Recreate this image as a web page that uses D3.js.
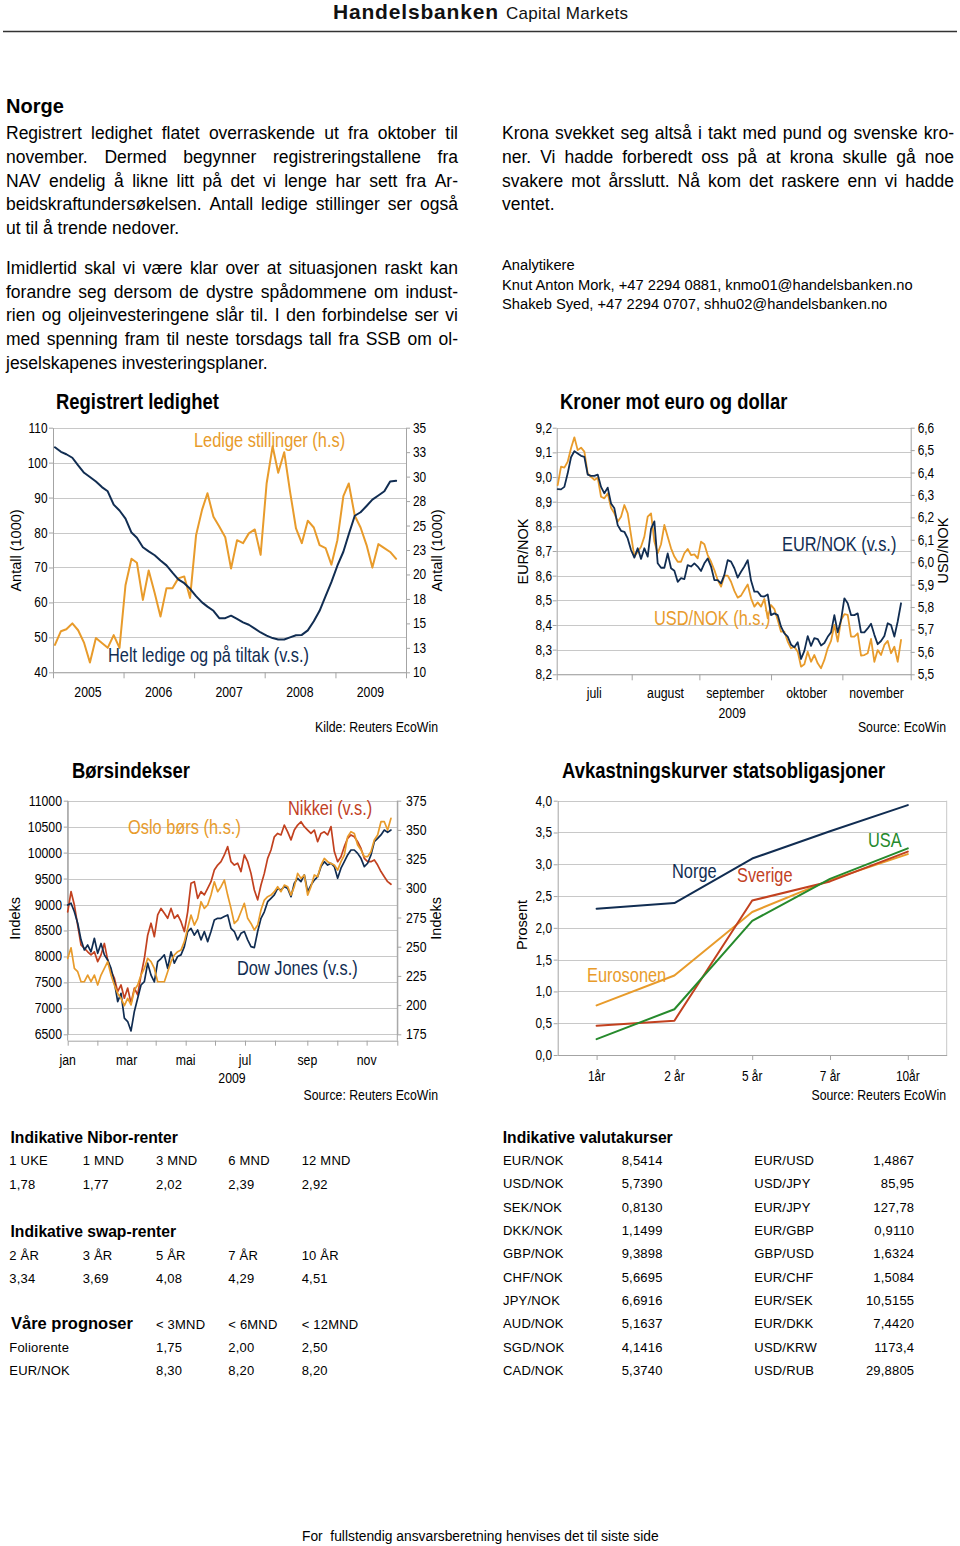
<!DOCTYPE html>
<html><head><meta charset="utf-8">
<script src="https://cdn.jsdelivr.net/npm/d3@7"></script>
<style>
html,body{margin:0;padding:0;background:#fff;}
svg{display:block;}
text{font-family:'Liberation Sans',Arial,Helvetica,sans-serif;}
</style></head><body>
<svg id="page" width="960" height="1546"></svg>
<script>
// ---------------- DATA ----------------
// Chart 1: Registrert ledighet (monthly, Jan 2005 - Nov 2009)
const ledigeHelt = [104.4,103.1,102.4,101.4,99.2,97.1,95.9,94.6,93.0,91.8,88.0,86.3,84.0,80.0,78.5,75.8,74.6,73.5,72.0,70.6,68.5,66.6,65.5,63.9,61.8,60.0,58.8,57.6,55.5,55.5,56.2,55.3,54.3,53.6,52.5,51.4,50.5,49.8,49.4,49.4,50.0,50.6,50.7,52.0,54.6,57.6,61.8,65.8,70.5,74.5,79.5,84.8,85.8,87.6,89.4,90.6,91.8,94.6,94.8];
const ledigeStillinger = [12.8,14.2,14.4,15.0,14.3,13.0,11.0,13.5,13.0,12.5,13.8,12.5,18.9,21.6,21.2,17.4,20.4,18.1,15.7,18.6,18.6,19.6,19.8,17.6,24.0,26.6,28.3,25.9,24.9,23.8,20.6,23.5,23.2,24.2,24.6,22.0,29.3,33.1,30.4,32.5,28.5,24.7,23.2,25.5,24.8,23.0,22.7,21.0,23.5,28.0,29.3,26.0,24.8,23.0,20.7,23.1,22.7,22.3,21.6];
const ledYears = ['2005','2006','2007','2008','2009'];
const ledLeftTicks = [40,50,60,70,80,90,100,110];
const ledRightTicks = [10,12.5,15,17.5,20,22.5,25,27.5,30,32.5,35];

// Chart 2: Kroner mot euro og dollar (daily samples, Jul - Nov 2009)
const eurNok = [8.951,8.95,8.96,9.015,9.08,9.105,9.095,9.086,9.082,9.01,
 9.005,9.005,9.01,8.96,8.934,8.957,8.893,8.873,8.805,8.782,
 8.778,8.751,8.704,8.673,8.711,8.668,8.711,8.677,8.79,8.82,
 8.65,8.632,8.632,8.69,8.63,8.62,8.575,8.59,8.586,8.643,
 8.637,8.65,8.637,8.619,8.65,8.67,8.637,8.582,8.582,8.569,
 8.603,8.663,8.657,8.63,8.592,8.616,8.637,8.663,8.58,8.535,
 8.535,8.517,8.515,8.524,8.44,8.447,8.44,8.393,8.366,8.353,
 8.32,8.31,8.33,8.262,8.295,8.355,8.315,8.347,8.343,8.317,
 8.327,8.352,8.37,8.44,8.37,8.42,8.508,8.488,8.44,8.44,
 8.447,8.37,8.37,8.386,8.405,8.36,8.322,8.335,8.355,8.407,
 8.40,8.353,8.414,8.488];
const usdNok = [6.344,6.426,6.422,6.448,6.508,6.557,6.50,6.511,6.493,6.396,
 6.381,6.367,6.377,6.292,6.285,6.307,6.243,6.218,6.181,6.203,
 6.255,6.218,6.121,6.025,6.047,6.069,6.114,6.203,6.218,6.092,
 6.04,6.08,6.166,6.114,6.062,6.025,6.002,6.002,6.04,6.059,
 6.032,6.035,6.017,6.092,6.08,6.032,6.002,5.965,5.921,5.891,
 5.94,5.94,5.913,5.872,5.842,5.851,5.876,5.901,5.839,5.802,
 5.821,5.802,5.836,5.75,5.809,5.791,5.742,5.69,5.69,5.646,
 5.616,5.623,5.601,5.534,5.545,5.601,5.556,5.586,5.549,5.527,
 5.564,5.616,5.649,5.72,5.646,5.742,5.768,5.765,5.668,5.668,
 5.683,5.583,5.586,5.594,5.658,5.556,5.608,5.586,5.631,5.649,
 5.594,5.623,5.556,5.653];
const fxMonths = ['juli','august','september','oktober','november'];
const fxMonthBreaks = [-0.3,22.2,42.5,64.0,85.4,105.9]; // sample index of month starts
const fxLeftTicks = [8.2,8.3,8.4,8.5,8.6,8.7,8.8,8.9,9.0,9.1,9.2];
const fxRightTicks = [5.5,5.6,5.7,5.8,5.9,6.0,6.1,6.2,6.3,6.4,6.5,6.6];

// Chart 3: Børsindekser 2009
const dowJones = [8990,9025,8860,8640,8320,8125,8220,8090,8350,8060,
 8250,8030,7930,7770,7510,7130,7290,6810,6745,6565,
 6940,7195,7450,7515,7870,7640,7510,7900,7960,8030,
 7770,8090,7870,8000,8030,8190,8480,8540,8410,8510,
 8320,8480,8285,8480,8700,8735,8735,8770,8800,8540,
 8480,8320,8445,8480,8320,8190,8170,8480,8735,8860,
 9055,9120,9185,9310,9280,9345,9310,9150,9410,9505,
 9440,9570,9250,9375,9470,9535,9730,9825,9760,9795,
 9730,9505,9700,9825,9955,10050,10050,9985,9890,9730,
 9795,9955,10210,10275,10340,10435,10390,10435];
const nikkei = [8860,9250,8990,8600,8220,8155,8090,8030,8090,7900,
 8030,8250,7930,7710,7580,7320,7450,7195,7390,7100,
 7390,7260,7640,7960,8410,8640,8380,8800,8925,8830,
 8735,8925,8735,8800,8670,8480,8860,9410,9440,9120,
 9250,9185,9310,9440,9665,9760,9825,9955,10115,9825,
 9760,9795,9635,9955,9825,9600,9280,9090,9375,9600,
 9890,10050,10305,10370,10340,10530,10400,10245,10435,10530,
 10595,10500,10435,10370,10435,10210,10370,10400,10340,10500,
 10020,9825,9920,10115,10275,10340,10305,10210,10080,9890,
 9825,9825,9860,9760,9635,9535,9440,9390];
const osloBors = [240.0,249.1,231.4,228.6,220.0,220.0,225.7,220.0,225.7,217.2,
 225.7,231.4,237.2,225.7,217.2,210.0,205.8,199.5,205.8,200.1,
 212.9,217.2,225.7,231.4,240.0,237.2,231.4,220.0,220.0,220.0,
 228.6,237.2,242.9,245.7,247.1,254.3,265.7,277.1,268.5,274.3,
 288.5,282.8,285.7,294.2,305.6,297.1,301.4,307.1,294.2,282.8,
 269.9,272.8,279.9,287.1,274.3,269.9,264.3,268.5,281.4,289.9,
 292.8,294.2,297.1,301.4,297.1,302.8,301.4,294.2,301.4,312.8,
 308.5,311.4,294.2,301.4,311.4,309.9,319.9,325.6,322.8,321.3,
 319.9,315.6,322.8,328.5,344.2,348.5,347.0,337.0,332.8,327.1,
 327.1,331.3,341.3,345.6,357.0,357.0,349.9,359.9];
const bsMonthPos = [0,8.9,17.7,26.4,35.4,44.2,53.2,62.2,71.9,80.9,89.7,98.9];
const bsMonthLabels = ['jan','','mar','','mai','','jul','','sep','','nov',''];
const bsLeftTicks = [6500,7000,7500,8000,8500,9000,9500,10000,10500,11000];
const bsRightTicks = [175,200,225,250,275,300,325,350,375];

// Chart 4: Avkastningskurver
const tenors = ['1år','2 år','5 år','7 år','10år'];
const yieldNorge = [2.30,2.39,3.09,3.52,3.93];
const yieldSverige = [0.46,0.54,2.43,2.73,3.20];
const yieldEuro = [0.78,1.25,2.25,2.75,3.16];
const yieldUSA = [0.25,0.72,2.11,2.77,3.25];
const yieldTicks = [0,0.5,1,1.5,2,2.5,3,3.5,4];

// Tables
const niborTenors = ['1 UKE','1 MND','3 MND','6 MND','12 MND'];
const niborRates = ['1,78','1,77','2,02','2,39','2,92'];
const swapTenors = ['2 ÅR','3 ÅR','5 ÅR','7 ÅR','10 ÅR'];
const swapRates = ['3,34','3,69','4,08','4,29','4,51'];
const progHorizons = ['< 3MND','< 6MND','< 12MND'];
const progNames = ['Foliorente','EUR/NOK'];
const progValues = [['1,75','2,00','2,50'],['8,30','8,20','8,20']];
const fxPairsA = ['EUR/NOK','USD/NOK','SEK/NOK','DKK/NOK','GBP/NOK','CHF/NOK','JPY/NOK','AUD/NOK','SGD/NOK','CAD/NOK'];
const fxRatesA = ['8,5414','5,7390','0,8130','1,1499','9,3898','5,6695','6,6916','5,1637','4,1416','5,3740'];
const fxPairsB = ['EUR/USD','USD/JPY','EUR/JPY','EUR/GBP','GBP/USD','EUR/CHF','EUR/SEK','EUR/DKK','USD/KRW','USD/RUB'];
const fxRatesB = ['1,4867','85,95','127,78','0,9110','1,6324','1,5084','10,5155','7,4420','1173,4','29,8805'];

// Text
const para1 = ['Registrert ledighet flatet overraskende ut fra oktober til','november. Dermed begynner registreringstallene fra','NAV endelig å likne litt på det vi lenge har sett fra Ar-','beidskraftundersøkelsen. Antall ledige stillinger ser også','ut til å trende nedover.'];
const para2 = ['Imidlertid skal vi være klar over at situasjonen raskt kan','forandre seg dersom de dystre spådommene om indust-','rien og oljeinvesteringene slår til. I den forbindelse ser vi','med spenning fram til neste torsdags tall fra SSB om ol-','jeselskapenes investeringsplaner.'];
const para3 = ['Krona svekket seg altså i takt med pund og svenske kro-','ner. Vi hadde forberedt oss på at krona skulle gå noe','svakere mot årsslutt. Nå kom det raskere enn vi hadde','ventet.'];
const analysts = ['Analytikere','Knut Anton Mork, +47 2294 0881, knmo01@handelsbanken.no','Shakeb Syed, +47 2294 0707, shhu02@handelsbanken.no'];

// ---------------- DRAWING ----------------
const C = {navy:'#112d52', orange:'#e89b2b', red:'#c2411f', green:'#268a2c', grid:'#c8c8c8', axis:'#a4a4a4'};
const svg = d3.select('#page');
svg.append('rect').attr('width',960).attr('height',1546).attr('fill','#fff');
const NX = 0.82;
const comma = v => String(v).replace('.', ',');

function ntext(g, x, y, str, o = {}) {
  const sx = o.narrow === false ? 1 : NX;
  const grp = g.append('g').attr('transform', `translate(${x},${y}) rotate(${o.rotate||0}) scale(${sx},1)`);
  grp.append('text').attr('x',0).attr('y',0)
    .attr('text-anchor', o.anchor || 'start')
    .attr('font-size', o.size || 14.5)
    .attr('font-weight', o.weight || 'normal')
    .attr('fill', o.fill || '#000')
    .text(str);
  return grp;
}
function ptext(g, x, y, str, o = {}) {
  const t = g.append('text').attr('x',x).attr('y',y)
    .attr('text-anchor', o.anchor || 'start')
    .attr('font-size', o.size || 13)
    .attr('font-weight', o.weight || 'normal')
    .attr('fill', o.fill || '#000')
    .attr('letter-spacing', o.ls || 0)
    .text(str);
  if (o.len) t.attr('textLength', o.len).attr('lengthAdjust','spacing');
  return t;
}
function justifyLine(g, x, y, width, str, size, justify) {
  const t = g.append('text').attr('x',x).attr('y',y).attr('font-size',size).attr('fill','#000');
  if (!justify) { t.text(str); return; }
  const words = str.split(' ');
  const widths = words.map(w => {
    const tmp = g.append('text').attr('font-size', size).text(w);
    const l = tmp.node().getComputedTextLength(); tmp.remove(); return l;
  });
  const gap = (width - d3.sum(widths)) / (words.length - 1);
  let cx = x;
  words.forEach((w, i) => { t.append('tspan').attr('x', cx).text(w); cx += widths[i] + gap; });
}
function styleAxis(sel, color) {
  sel.select('.domain').attr('stroke', color || C.axis);
  sel.selectAll('.tick line').attr('stroke', color || C.axis);
  sel.selectAll('.tick text').remove();
}
function grid(g, y, vals, x0, x1) {
  const a = g.append('g').attr('transform', `translate(${x0},0)`)
    .call(d3.axisLeft(y).tickValues(vals).tickSize(-(x1 - x0)).tickFormat(''));
  a.select('.domain').remove();
  a.selectAll('.tick line').attr('stroke', C.grid).attr('shape-rendering','crispEdges');
}
function drawLine(g, data, x, y, color, w) {
  g.append('path').datum(data)
    .attr('fill','none').attr('stroke',color).attr('stroke-width',w||2)
    .attr('stroke-linejoin','round').attr('stroke-linecap','round')
    .attr('d', d3.line().x((d,i) => x(i)).y(d => y(d)));
}

// ---- Header ----
ptext(svg, 333, 18.5, 'Handelsbanken', {size:21, weight:'bold', len:165, fill:'#111'});
ptext(svg, 506, 18.5, 'Capital Markets', {size:17, len:122, fill:'#111'});
svg.append('line').attr('x1',3).attr('x2',957).attr('y1',31.5).attr('y2',31.5).attr('stroke','#333').attr('stroke-width',1.4);

// ---- Body text ----
ptext(svg, 6, 113.3, 'Norge', {size:20, weight:'bold'});
para1.forEach((ln,i) => justifyLine(svg, 6, 139.3 + i*23.7, 452, ln, 17.5, i < para1.length-1));
para2.forEach((ln,i) => justifyLine(svg, 6, 274 + i*23.7, 452, ln, 17.5, i < para2.length-1));
para3.forEach((ln,i) => justifyLine(svg, 502, 139.3 + i*23.7, 452, ln, 17.5, i < para3.length-1));
analysts.forEach((ln,i) => ptext(svg, 502, 270 + i*19.6, ln, {size:14.7}));

// ---- Chart 1: Registrert ledighet ----
(function(){
  const g = svg.append('g');
  const L = 53, R = 406, T = 427.7, B = 672.3;
  const months = d3.timeMonth.range(new Date(2005,0,1), new Date(2009,11,1)).map(d => d3.timeDay.offset(d, 10));
  const xt = d3.scaleTime().domain([new Date(2005,0,1), new Date(2010,0,1)]).range([L, R]);
  const x = i => xt(months[i]);
  const yL = d3.scaleLinear().domain([40,110]).range([B, T]);
  const yR = d3.scaleLinear().domain([10,35]).range([B, T]);
  grid(g, yL, ledLeftTicks, L, R);
  styleAxis(g.append('g').attr('transform',`translate(${L},0)`).call(d3.axisLeft(yL).tickValues(ledLeftTicks).tickSize(4).tickSizeOuter(0)));
  styleAxis(g.append('g').attr('transform',`translate(${R},0)`).call(d3.axisRight(yR).tickValues(ledRightTicks).tickSize(4).tickSizeOuter(0)));
  styleAxis(g.append('g').attr('transform',`translate(0,${B})`).call(d3.axisBottom(xt).ticks(d3.timeYear.every(1)).tickSize(6).tickSizeOuter(0)));
  ledLeftTicks.forEach(v => ntext(g, 47.5, yL(v) + 5, String(v), {anchor:'end'}));
  ledRightTicks.forEach(v => ntext(g, 413, yR(v) + 5, String(Math.round(v)), {anchor:'start'}));
  ledYears.forEach(yr => ntext(g, xt(new Date(+yr, 6, 1)), 696.7, yr, {anchor:'middle', size:15}));
  drawLine(g, ledigeStillinger, x, yR, C.orange, 2);
  drawLine(g, ledigeHelt, x, yL, C.navy, 2);
  ntext(g, 56, 409, 'Registrert ledighet', {size:22.5, weight:'bold'});
  ntext(g, 194, 447.3, 'Ledige stillinger (h.s)', {size:20, fill:C.orange});
  ntext(g, 108, 662, 'Helt ledige og på tiltak (v.s.)', {size:20, fill:C.navy});
  ntext(g, 20.5, 550.5, 'Antall (1000)', {anchor:'middle', rotate:-90, narrow:false, size:14.5});
  ntext(g, 441.5, 550.5, 'Antall (1000)', {anchor:'middle', rotate:-90, narrow:false, size:14.5});
  ntext(g, 438, 731.7, 'Kilde: Reuters EcoWin', {anchor:'end', size:15});
})();

// ---- Chart 2: Kroner mot euro og dollar ----
(function(){
  const g = svg.append('g');
  const L = 556.7, R = 910.7, T = 427.7, B = 674.3;
  const x = d3.scaleLinear().domain([fxMonthBreaks[0], fxMonthBreaks[fxMonthBreaks.length-1]]).range([L, R]);
  const yL = d3.scaleLinear().domain([8.2,9.2]).range([B, T]);
  const yR = d3.scaleLinear().domain([5.5,6.6]).range([B, T]);
  grid(g, yL, fxLeftTicks, L, R);
  styleAxis(g.append('g').attr('transform',`translate(${L},0)`).call(d3.axisLeft(yL).tickValues(fxLeftTicks).tickSize(4).tickSizeOuter(0)));
  styleAxis(g.append('g').attr('transform',`translate(${R},0)`).call(d3.axisRight(yR).tickValues(fxRightTicks).tickSize(4).tickSizeOuter(0)));
  styleAxis(g.append('g').attr('transform',`translate(0,${B})`).call(d3.axisBottom(x).tickValues(fxMonthBreaks).tickSize(6).tickSizeOuter(0)));
  fxLeftTicks.forEach(v => ntext(g, 552, yL(v) + 5, comma(v.toFixed(1)), {anchor:'end'}));
  fxRightTicks.forEach(v => ntext(g, 917.7, yR(v) + 5, comma(v.toFixed(1)), {anchor:'start'}));
  fxMonths.forEach((m,i) => ntext(g, (x(fxMonthBreaks[i]) + x(fxMonthBreaks[i+1]))/2, 698.3, m, {anchor:'middle', size:15}));
  ntext(g, (x(fxMonthBreaks[2]) + x(fxMonthBreaks[3]))/2 - 3, 717.7, '2009', {anchor:'middle', size:15});
  drawLine(g, usdNok, x, yR, C.orange, 1.8);
  drawLine(g, eurNok, x, yL, C.navy, 1.8);
  ntext(g, 560, 409.3, 'Kroner mot euro og dollar', {size:22.5, weight:'bold'});
  ntext(g, 782, 551, 'EUR/NOK (v.s.)', {size:20, fill:C.navy});
  ntext(g, 654, 624.5, 'USD/NOK (h.s.)', {size:20, fill:C.orange});
  ntext(g, 528, 551.5, 'EUR/NOK', {anchor:'middle', rotate:-90, narrow:false, size:14.5});
  ntext(g, 948.3, 550.5, 'USD/NOK', {anchor:'middle', rotate:-90, narrow:false, size:14.5});
  ntext(g, 946, 731.7, 'Source: EcoWin', {anchor:'end', size:15});
})();

// ---- Chart 3: Børsindekser ----
(function(){
  const g = svg.append('g');
  const L = 67.7, R = 397.3, T = 800.7, B = 1040.7;
  const x = d3.scaleLinear().domain([bsMonthPos[0], bsMonthPos[bsMonthPos.length-1]]).range([L, R]);
  const yL = d3.scaleLinear().domain([6500,11000]).range([1034.3, T]);
  const yR = d3.scaleLinear().domain([175,375]).range([1034.3, T]);
  grid(g, yL, bsLeftTicks, L, R);
  g.append('line').attr('x1',L).attr('x2',L).attr('y1',T).attr('y2',B).attr('stroke',C.axis);
  g.append('line').attr('x1',R).attr('x2',R).attr('y1',T).attr('y2',B).attr('stroke',C.axis);
  styleAxis(g.append('g').attr('transform',`translate(${L},0)`).call(d3.axisLeft(yL).tickValues(bsLeftTicks).tickSize(4).tickSizeOuter(0)));
  styleAxis(g.append('g').attr('transform',`translate(${R},0)`).call(d3.axisRight(yR).tickValues(bsRightTicks).tickSize(4).tickSizeOuter(0)));
  styleAxis(g.append('g').attr('transform',`translate(0,${B})`).call(d3.axisBottom(x).tickValues(bsMonthPos).tickSize(5).tickSizeOuter(0)));
  bsLeftTicks.forEach(v => ntext(g, 62, yL(v) + 5, String(v), {anchor:'end', size:15}));
  bsRightTicks.forEach(v => ntext(g, 406, yR(v) + 5, String(v), {anchor:'start', size:15}));
  bsMonthLabels.forEach((m,i) => { if (m) ntext(g, x(bsMonthPos[i]), 1065, m, {anchor:'middle', size:15}); });
  ntext(g, 232, 1083.3, '2009', {anchor:'middle', size:15});
  drawLine(g, nikkei, x, yL, C.red, 1.7);
  drawLine(g, dowJones, x, yL, C.navy, 1.7);
  drawLine(g, osloBors, x, yR, C.orange, 1.7);
  ntext(g, 72, 777.7, 'Børsindekser', {size:22.5, weight:'bold'});
  ntext(g, 288, 815, 'Nikkei (v.s.)', {size:20, fill:C.red});
  ntext(g, 128, 834, 'Oslo børs (h.s.)', {size:20, fill:C.orange});
  ntext(g, 237, 975, 'Dow Jones (v.s.)', {size:20, fill:C.navy});
  ntext(g, 20, 918.3, 'Indeks', {anchor:'middle', rotate:-90, narrow:false, size:14.5});
  ntext(g, 440.7, 918.3, 'Indeks', {anchor:'middle', rotate:-90, narrow:false, size:14.5});
  ntext(g, 438, 1099.5, 'Source: Reuters EcoWin', {anchor:'end', size:15});
})();

// ---- Chart 4: Avkastningskurver ----
(function(){
  const g = svg.append('g');
  const L = 557.7, R = 946.7, T = 800.7, B = 1055;
  const xp = d3.scalePoint().domain(tenors).range([L, R]).padding(0.5);
  const x = i => xp(tenors[i]);
  const y = d3.scaleLinear().domain([0,4]).range([B, T]);
  grid(g, y, yieldTicks, L, R);
  g.append('line').attr('x1',R).attr('x2',R).attr('y1',T).attr('y2',B).attr('stroke',C.grid);
  styleAxis(g.append('g').attr('transform',`translate(${L},0)`).call(d3.axisLeft(y).tickValues(yieldTicks).tickSize(4).tickSizeOuter(0)));
  styleAxis(g.append('g').attr('transform',`translate(0,${B})`).call(d3.axisBottom(xp).tickSize(5).tickSizeOuter(0)));
  yieldTicks.forEach(v => ntext(g, 552, y(v) + 5, comma(v.toFixed(1)), {anchor:'end'}));
  tenors.forEach(t => ntext(g, xp(t), 1081, t, {anchor:'middle', size:14.5}));
  drawLine(g, yieldNorge, x, y, C.navy, 2);
  drawLine(g, yieldEuro, x, y, C.orange, 2);
  drawLine(g, yieldSverige, x, y, C.red, 2);
  drawLine(g, yieldUSA, x, y, C.green, 2);
  ntext(g, 562, 777.7, 'Avkastningskurver statsobligasjoner', {size:22.5, weight:'bold'});
  ntext(g, 672, 877.7, 'Norge', {size:20, fill:C.navy});
  ntext(g, 737, 881.7, 'Sverige', {size:20, fill:C.red});
  ntext(g, 868, 846.5, 'USA', {size:20, fill:C.green});
  ntext(g, 587, 981.5, 'Eurosonen', {size:20, fill:C.orange});
  ntext(g, 527, 925, 'Prosent', {anchor:'middle', rotate:-90, narrow:false, size:14.5});
  ntext(g, 946, 1099.5, 'Source: Reuters EcoWin', {anchor:'end', size:15});
})();

// ---- Tables ----
(function(){
  const g = svg.append('g');
  const cols = [9.3, 82.7, 156, 228.3, 301.7];
  const o = {size:13, ls:0.2};
  ptext(g, 10.5, 1142.7, 'Indikative Nibor-renter', {size:15.7, weight:'bold'});
  niborTenors.forEach((t,i) => ptext(g, cols[i], 1165, t, o));
  niborRates.forEach((t,i) => ptext(g, cols[i], 1189.3, t, o));
  ptext(g, 10.5, 1237.3, 'Indikative swap-renter', {size:15.7, weight:'bold'});
  swapTenors.forEach((t,i) => ptext(g, cols[i], 1260, t, o));
  swapRates.forEach((t,i) => ptext(g, cols[i], 1283.3, t, o));
  ptext(g, 11, 1329.3, 'Våre prognoser', {size:16.5, weight:'bold'});
  progHorizons.forEach((t,i) => ptext(g, cols[i+2], 1329.3, t, o));
  progNames.forEach((n,r) => {
    ptext(g, cols[0], 1352.3 + r*22.7, n, o);
    progValues[r].forEach((v,i) => ptext(g, cols[i+2], 1352.3 + r*22.7, v, o));
  });
  ptext(g, 502.7, 1142.7, 'Indikative valutakurser', {size:15.7, weight:'bold'});
  fxPairsA.forEach((p,i) => {
    const yy = 1165 + i*23.33;
    ptext(g, 503, yy, p, o);
    ptext(g, 621.7, yy, fxRatesA[i], o);
    ptext(g, 754.3, yy, fxPairsB[i], o);
    ptext(g, 914.3, yy, fxRatesB[i], Object.assign({anchor:'end'}, o));
  });
})();

// ---- Footer ----
ptext(svg, 302, 1541, 'For  fullstendig ansvarsberetning henvises det til siste side', {size:13.8}).attr('xml:space','preserve').style('white-space','pre');
</script></body></html>
